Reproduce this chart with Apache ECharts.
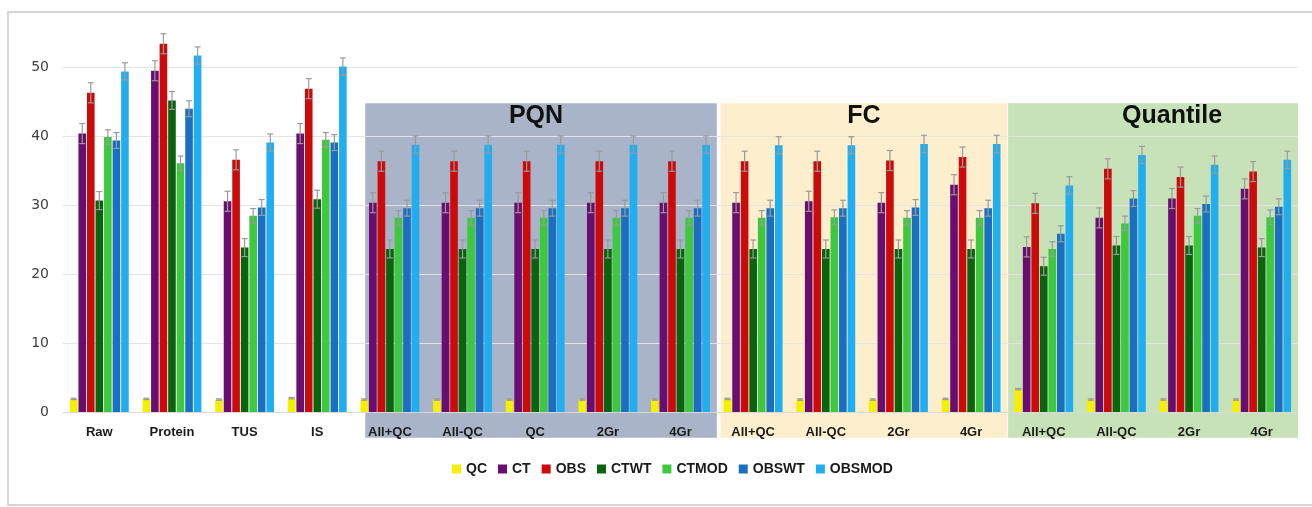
<!DOCTYPE html>
<html>
<head>
<meta charset="utf-8">
<script src="https://cdn.jsdelivr.net/npm/echarts@6/dist/echarts.min.js"></script>
<style>
  html, body { margin: 0; padding: 0; background: #ffffff; }
  #chart { width: 1312px; height: 507px; }
</style>
</head>
<body>
<div id="chart"></div>
<script>
// Normalisation methods compared across sample groups
const categories = ['Raw', 'Protein', 'TUS', 'IS',
  'All+QC', 'All-QC', 'QC', '2Gr', '4Gr',
  'All+QC', 'All-QC', '2Gr', '4Gr',
  'All+QC', 'All-QC', '2Gr', '4Gr'];

const seriesNames = ['QC', 'CT', 'OBS', 'CTWT', 'CTMOD', 'OBSWT', 'OBSMOD'];

const qcValues     = [2.0, 2.0, 1.9, 2.1, 1.9, 1.9, 1.9, 1.9, 1.9, 2.0, 1.9, 1.9, 2.0, 3.4, 1.9, 1.9, 1.9];
const ctValues     = [40.4, 49.5, 30.6, 40.4, 30.4, 30.4, 30.4, 30.4, 30.4, 30.4, 30.6, 30.4, 33.0, 24.0, 28.2, 31.0, 32.4];
const obsValues    = [46.3, 53.4, 36.6, 46.9, 36.4, 36.4, 36.4, 36.4, 36.4, 36.4, 36.4, 36.5, 37.0, 30.3, 35.3, 34.1, 34.9];
const ctwtValues   = [30.7, 45.2, 23.9, 30.9, 23.7, 23.7, 23.7, 23.7, 23.7, 23.7, 23.7, 23.7, 23.7, 21.2, 24.2, 24.2, 23.9];
const ctmodValues  = [39.9, 36.1, 28.5, 39.5, 28.2, 28.2, 28.2, 28.2, 28.2, 28.2, 28.3, 28.2, 28.2, 23.7, 27.4, 28.5, 28.3];
const obswtValues  = [39.4, 44.0, 29.7, 39.1, 29.6, 29.6, 29.6, 29.6, 29.6, 29.6, 29.6, 29.7, 29.6, 25.9, 31.0, 30.2, 29.8];
const obsmodValues = [49.4, 51.7, 39.1, 50.1, 38.8, 38.8, 38.8, 38.8, 38.8, 38.7, 38.7, 38.9, 38.9, 32.9, 37.3, 35.9, 36.6];

// Error (± half-range) for each series
const seriesErrors = [0.1, 1.45, 1.45, 1.3, 1.05, 1.15, 1.25];

const yTicks = [0, 10, 20, 30, 40, 50];

// Grouped normalisation blocks: first and last category index
const methodGroups = [
  { name: 'PQN', from: 4, to: 8 },
  { name: 'FC', from: 9, to: 12 },
  { name: 'Quantile', from: 13, to: 16 }
];

const allValues = [qcValues, ctValues, obsValues, ctwtValues, ctmodValues, obswtValues, obsmodValues];
const seriesColors = ['#f5f000', '#6a0d70', '#cc0a0a', '#0a640f', '#3ec83e', '#1a6fc0', '#20aef0'];
const regionColors = ['#a9b4c9', '#fdeecd', '#c7e1b8'];
const regionInset = [0.16, 0.05, 0.01];
const titleShift = [-5, 0, 19];

const BAR_CAT_GAP = 0.19;
const BAR_GAP = 0.12;

const chart = echarts.init(document.getElementById('chart'), null, { renderer: 'canvas' });

const barSeries = seriesNames.map((name, i) => ({
  name: name,
  type: 'bar',
  data: allValues[i],
  barCategoryGap: (BAR_CAT_GAP * 100) + '%',
  barGap: (BAR_GAP * 100) + '%',
  itemStyle: { color: seriesColors[i] },
  z: 3
}));

// Error bars laid out with the same grouping rule as the bars
const errorData = [];
allValues.forEach((vals, s) => {
  vals.forEach((v, c) => errorData.push([c, s, v, seriesErrors[s]]));
});

const errorSeries = {
  type: 'custom',
  name: 'error',
  data: errorData,
  encode: { x: 0, y: 2 },
  z: 5,
  silent: true,
  renderItem: function (params, api) {
    const c = api.value(0), s = api.value(1), v = api.value(2), e = api.value(3);
    const n = seriesNames.length;
    const band = api.size([1, 0])[0];
    const avail = band * (1 - BAR_CAT_GAP);
    const bw = avail / (n + (n - 1) * BAR_GAP);
    const offset = -avail / 2 + s * (bw * (1 + BAR_GAP)) + bw / 2;
    const top = api.coord([c, v + e]);
    const bot = api.coord([c, v - e]);
    const x = top[0] + offset;
    const cap = Math.min(3, bw / 2);
    const st = { stroke: '#9a9a9a', lineWidth: 1.2 };
    return {
      type: 'group',
      children: [
        { type: 'line', shape: { x1: x, y1: top[1], x2: x, y2: bot[1] }, style: st },
        { type: 'line', shape: { x1: x - cap, y1: top[1], x2: x + cap, y2: top[1] }, style: st },
        { type: 'line', shape: { x1: x - cap, y1: bot[1], x2: x + cap, y2: bot[1] }, style: st }
      ]
    };
  }
};

chart.setOption({
  animation: false,
  backgroundColor: '#ffffff',
  textStyle: { fontFamily: 'Liberation Sans, Arial, sans-serif' },
  grid: { left: 63, right: 14, top: 32.7, bottom: 94.3 },
  legend: {
    data: seriesNames,
    left: 447,
    top: 457,
    icon: 'rect',
    itemWidth: 9,
    itemHeight: 9,
    itemGap: 11,
    textStyle: { fontSize: 14, fontWeight: 'bold', color: '#1a1a1a', fontFamily: 'Liberation Sans, Arial, sans-serif' }
  },
  xAxis: {
    type: 'category',
    data: categories,
    axisTick: { show: false },
    axisLine: { show: true, lineStyle: { color: '#d9d9d9', width: 1 } },
    axisLabel: { interval: 0, margin: 13, fontSize: 13, fontWeight: 'bold', color: '#1a1a1a' },
    z: 4
  },
  yAxis: {
    type: 'value',
    min: 0,
    max: 55,
    interval: 10,
    axisLine: { show: false },
    axisTick: { show: false },
    axisLabel: {
      showMaxLabel: false,
      margin: 14,
      fontSize: 14,
      color: '#404040',
      fontFamily: 'DejaVu Sans, sans-serif',
      formatter: v => (yTicks.indexOf(v) >= 0 ? String(v) : '')
    },
    splitLine: { show: true, showMaxLine: false, lineStyle: { color: '#e4e4e4', width: 1 } }
  },
  series: barSeries.concat([errorSeries])
});

// Shaded method blocks with their headings, placed from the axes
function drawBlocks() {
  const p0 = chart.convertToPixel({ xAxisIndex: 0 }, 0);
  const p1 = chart.convertToPixel({ xAxisIndex: 0 }, 1);
  const band = p1 - p0;
  const edge0 = p0 - band / 2;
  const yTop = chart.convertToPixel({ yAxisIndex: 0 }, 44.8);
  const yZero = chart.convertToPixel({ yAxisIndex: 0 }, 0);
  const yBottom = yZero + 25;
  const elements = [];
  methodGroups.forEach((g, i) => {
    const x0 = edge0 + (g.from + regionInset[i]) * band;
    const x1 = edge0 + (g.to + 1) * band;
    elements.push({
      type: 'rect',
      z: -10,
      silent: true,
      shape: { x: x0, y: yTop, width: x1 - x0, height: yBottom - yTop },
      style: { fill: regionColors[i] }
    });
    elements.push({
      type: 'text',
      z: 10,
      silent: true,
      x: (x0 + x1) / 2 + titleShift[i],
      y: yTop + 13,
      style: {
        text: g.name,
        fill: '#111111',
        font: 'bold 25px "Liberation Sans", Arial, sans-serif',
        align: 'center',
        verticalAlign: 'middle'
      }
    });
  });
  // outer frame
  elements.push({
    type: 'rect',
    z: 20,
    silent: true,
    shape: { x: 8, y: 12, width: 1320, height: 493 },
    style: { fill: 'none', stroke: '#c8c8c8', lineWidth: 1.5 }
  });
  chart.setOption({ graphic: { elements: elements } });
}
drawBlocks();
</script>
</body>
</html>
